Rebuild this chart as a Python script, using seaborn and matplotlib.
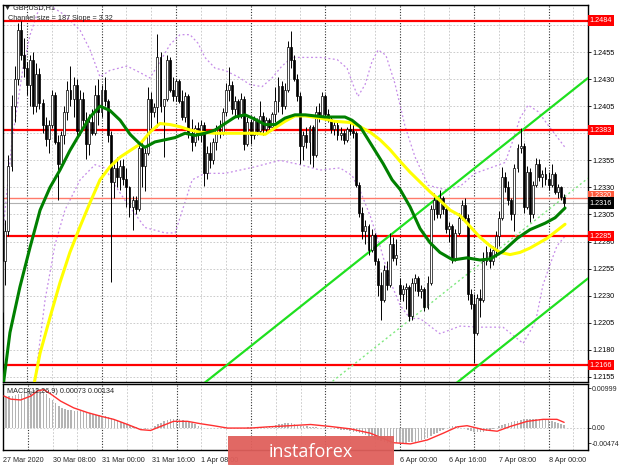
import numpy as np
import pandas as pd
import seaborn as sns
import matplotlib
matplotlib.use("Agg")
from matplotlib import pyplot as plt
from matplotlib.patches import FancyBboxPatch

## GBPUSD H1 chart (MT4 style) with MA, bands, channel and MACD

# candles, in pips above 1.2000 (one entry per hourly bar)
opens = [215, 262, 290, 350, 405, 430, 475, 452, 440, 425, 448, 405, 435, 408, 388, 375, 388, 415, 372, 352,
         378, 400, 420, 412, 425, 382, 412, 392, 370, 390, 380, 415, 400, 420, 410, 378, 335, 348, 340, 350,
         338, 330, 312, 318, 310, 366, 350, 362, 412, 400, 404, 450, 405, 412, 448, 420, 414, 428, 410, 395,
         414, 380, 372, 385, 378, 388, 343, 362, 355, 372, 385, 380, 400, 420, 425, 402, 410, 396, 412, 370,
         390, 378, 392, 382, 396, 384, 392, 386, 398, 410, 424, 405, 420, 460, 448, 430, 414, 368, 378, 372,
         386, 360, 400, 396, 414, 398, 393, 384, 388, 378, 380, 374, 384, 382, 380, 332, 306, 290, 294, 272,
         286, 262, 240, 226, 254, 240, 278, 265, 240, 232, 236, 238, 211, 242, 246, 234, 236, 220, 242, 310,
         318, 305, 320, 310, 292, 294, 264, 288, 302, 314, 302, 232, 222, 196, 228, 226, 262, 270, 262, 272,
         285, 302, 340, 330, 318, 305, 348, 366, 368, 312, 344, 305, 332, 352, 340, 342, 338, 332, 342, 326,
         330, 321]
highs = [270, 300, 360, 415, 442, 482, 484, 468, 446, 452, 455, 445, 440, 412, 395, 392, 420, 418, 378, 382,
         405, 428, 442, 432, 430, 420, 418, 400, 398, 402, 425, 430, 425, 432, 412, 382, 352, 358, 355, 356,
         348, 331, 322, 322, 370, 372, 366, 423, 418, 408, 472, 455, 412, 452, 450, 432, 430, 430, 420, 418,
         416, 393, 388, 390, 392, 390, 368, 372, 376, 388, 392, 403, 426, 441, 428, 414, 412, 417, 414, 395,
         393, 396, 394, 410, 400, 395, 394, 400, 423, 432, 428, 426, 465, 474, 452, 435, 418, 382, 386, 388,
         388, 405, 408, 418, 416, 402, 396, 392, 390, 386, 383, 386, 390, 389, 382, 335, 312, 300, 296, 292,
         288, 265, 252, 258, 262, 288, 284, 282, 246, 240, 242, 240, 246, 250, 248, 240, 238, 248, 314, 325,
         320, 328, 322, 313, 298, 296, 292, 306, 318, 320, 305, 236, 232, 232, 236, 270, 276, 274, 276, 290,
         308, 349, 344, 336, 320, 352, 370, 385, 371, 350, 348, 336, 357, 356, 346, 349, 344, 352, 344, 333,
         331, 324]
lows = [205, 240, 285, 345, 390, 425, 448, 432, 415, 405, 398, 400, 402, 380, 368, 362, 385, 370, 318, 348,
        370, 392, 405, 395, 375, 378, 388, 356, 360, 378, 378, 388, 395, 405, 372, 243, 320, 330, 328, 332,
        312, 303, 291, 305, 308, 330, 327, 360, 385, 395, 386, 400, 358, 410, 418, 410, 410, 408, 392, 390,
        376, 364, 368, 374, 372, 331, 338, 348, 352, 365, 376, 378, 396, 410, 398, 396, 393, 394, 365, 368,
        370, 375, 378, 380, 378, 380, 382, 384, 390, 400, 398, 402, 418, 440, 428, 410, 352, 355, 366, 352,
        349, 358, 390, 394, 392, 390, 380, 378, 374, 374, 370, 372, 378, 376, 330, 303, 282, 278, 268, 270,
        258, 230, 208, 224, 235, 238, 262, 258, 226, 225, 218, 207, 208, 234, 230, 228, 216, 218, 240, 300,
        302, 302, 305, 288, 280, 260, 262, 286, 300, 300, 226, 218, 168, 194, 210, 224, 258, 256, 258, 266,
        276, 300, 326, 314, 300, 290, 344, 362, 306, 310, 298, 302, 330, 336, 330, 332, 328, 330, 324, 320,
        318, 312]
closes = [262, 290, 350, 405, 430, 475, 452, 440, 425, 448, 405, 435, 408, 388, 375, 388, 415, 372, 352, 378,
          400, 420, 412, 425, 382, 412, 392, 370, 390, 380, 415, 400, 420, 410, 378, 335, 348, 340, 350, 338,
          330, 312, 318, 310, 366, 350, 362, 412, 400, 404, 450, 405, 412, 448, 420, 414, 428, 410, 395, 414,
          380, 372, 385, 378, 388, 343, 362, 355, 372, 385, 380, 400, 420, 425, 402, 410, 396, 412, 370, 390,
          378, 392, 382, 396, 384, 392, 386, 398, 410, 424, 405, 420, 460, 448, 430, 414, 368, 378, 372, 386,
          360, 400, 396, 414, 398, 393, 384, 388, 378, 380, 374, 384, 382, 380, 332, 306, 290, 294, 272, 286,
          262, 240, 226, 254, 240, 278, 265, 268, 232, 236, 238, 211, 242, 246, 234, 236, 220, 242, 310, 318,
          305, 320, 310, 292, 294, 264, 288, 302, 314, 302, 232, 222, 196, 228, 226, 262, 270, 262, 272, 285,
          302, 340, 330, 318, 305, 348, 366, 368, 312, 344, 305, 332, 352, 340, 342, 338, 332, 342, 326, 330,
          321, 316]

# moving averages: (bar, pips)
green_bar = [0, 2.5, 5.7, 9.0, 12.2, 15.4, 18.6, 21.8, 25.1, 28.3, 31.5, 34.7, 38.0, 41.2, 44.4, 46.0, 49.2,
             52.5, 55.7, 58.9, 62.1, 65.3, 68.6, 71.8, 75.0, 78.2, 81.4, 84.7, 87.9, 91.1, 94.3, 97.6, 100.8,
             104.0, 107.2, 110.4, 112.7, 115.3, 117.5, 120.1, 122.7, 125.6, 128.2, 131.4, 134.6, 137.8, 141.0,
             145.2, 149.7, 153.9, 157.2, 161.3, 165.9, 170.0, 174.9, 178.1, 181.3]
green_val = [140, 196, 238, 275, 309, 330, 346, 364, 380, 395, 405, 401, 392, 379, 370, 367, 372,
             374, 376, 380, 378, 380, 383, 389, 395, 397, 393, 388, 388, 394, 397, 397, 396,
             395, 395, 395, 392, 386, 376, 364, 352, 337, 328, 312, 292, 279, 270,
             263, 265, 263, 264, 271, 283, 291, 297, 302, 311]
yellow_bar = [9.0, 12.2, 15.4, 18.6, 21.8, 25.1, 28.3, 31.5, 34.7, 38.0, 41.2, 44.4, 47.6, 50.8, 54.1, 57.3,
              60.5, 63.7, 68.6, 75.0, 81.4, 84.7, 87.9, 91.1, 94.3, 97.6, 102.4, 107.2, 112.0, 115.3, 118.5,
              121.7, 124.9, 128.2, 131.4, 134.6, 137.8, 141.0, 144.3, 147.5, 150.7, 153.9, 157.2, 160.4,
              163.6, 166.8, 170.0, 175.5, 181.3]
yellow_val = [130, 177, 210, 242, 270, 294, 316, 337, 349, 358, 364, 370, 381, 389, 388, 386,
              383, 381, 380, 380, 380, 379, 385, 391, 396, 396, 394, 391, 390, 386, 381,
              374, 365, 354, 344, 335, 326, 318, 309, 304, 294, 284, 276, 270,
              268, 270, 274, 283, 296]

# bollinger bands (dotted violet): (bar, pips)
upper_bar = [0.3, 3.2, 6.7, 9.0, 11.5, 13.5, 15.4, 20.2, 25.1, 28.3, 31.5, 34.7, 40.2, 44.4, 47.6, 50.8, 54.1,
             57.3, 60.5, 63.1, 65.3, 68.6, 71.8, 76.0, 79.8, 83.7, 86.9, 90.1, 93.4, 97.6, 102.4, 107.9,
             111.1, 113.0, 114.6, 116.9, 119.1, 121.1, 123.6, 126.5, 129.8, 133.0, 137.2, 142.6, 147.5,
             152.3, 157.2, 162.0, 164.6, 166.8, 169.4, 172.6, 176.5, 181.3]
upper_val = [291, 374, 440, 471, 492, 502, 498, 489, 475, 457, 432, 438, 442, 436, 431, 446, 462,
             471, 471, 463, 450, 440, 438, 432, 425, 423, 431, 442, 450, 450, 450, 448,
             440, 425, 414, 425, 446, 457, 452, 426, 386, 358, 332, 328, 331,
             343, 348, 353, 374, 394, 406, 400, 385, 367]
lower_bar = [10.6, 13.8, 17.0, 20.2, 25.1, 29.9, 33.1, 36.3, 39.6, 46.0, 52.5, 55.7, 61.2, 65.3, 71.8, 81.4,
             89.5, 96.0, 102.4, 108.8, 112.7, 115.3, 118.5, 121.7, 124.9, 128.2, 131.4, 134.6, 141.0,
             147.5, 153.9, 161.3, 167.8, 171.8, 174.2, 176.5, 178.7, 181.3]
lower_val = [152, 226, 277, 309, 337, 351, 348, 332, 318, 293, 288, 288, 337, 343, 343, 349,
             355, 351, 346, 348, 341, 327, 304, 276, 244, 221, 209, 209, 195,
             202, 201, 201, 186, 206, 240, 259, 276, 285]

# horizontal levels
red_levels = [1.2484, 1.2383, 1.2285, 1.2166]
orange_level = 1.2320
last_price = 1.2316

# regression channel (upper line end points) and its width
chan_bar = [60.0, 188.7]
chan_upper = [1.21378, 1.2431]
chan_width = 0.0185

# MACD histogram (1e-4 units) and signal line samples
macd_hist = [77, 78, 79, 80, 82, 84, 86, 88, 90, 93, 96, 99, 97, 90, 84, 76, 70, 62, 55, 50,
             46, 45, 44, 43, 42, 41, 40, 38, 36, 34, 33, 32, 30, 29, 27, 24, 22, 19, 15, 11,
             8, 5, 3, 1, 0, -2, -3, -2, 0, 3, 9, 13, 17, 20, 21, 22, 21, 21, 19, 17,
             14, 11, 8, 5, 2, 0, -1, -1, 0, 0, -1, -1, 0, 0, -1, -1, 0, 0, 0, 1,
             1, 0, 0, 0, 1, 2, 3, 4, 6, 8, 10, 12, 12, 11, 9, 7, 5, 4, 3, 2,
             1, 1, 0, 0, 0, -1, -2, -3, -4, -5, -6, -7, -8, -10, -12, -14, -16, -18, -20, -24,
             -28, -31, -34, -37, -39, -40, -39, -39, -39, -39, -38, -37, -36, -35, -33, -31, -29, -25, -21, -17,
             -13, -9, -5, -2, 1, 3, 3, 2, 0, -1, -5, -8, -10, -12, -12, -11, -9, -6, -4, -1,
             3, 6, 8, 11, 14, 16, 18, 20, 22, 22, 21, 21, 21, 21, 20, 20, 19, 17, 15, 13,
             10, 7.3]
signal_bar = [0.3, 2.5, 5.7, 9.0, 11.2, 13.1, 15.4, 18.6, 22.8, 27.3, 31.5, 35.7, 40.2, 44.4, 47.6, 50.8,
              55.0, 59.5, 63.7, 67.9, 72.4, 79.8, 85.3, 92.7, 99.2, 105.6, 112.0, 118.5, 125.9, 131.4,
              136.9, 142.0, 146.5, 149.7, 154.9, 159.4, 163.6, 169.1, 174.2, 178.7, 181.0]
signal_val = [80, 72, 70, 80, 93, 96, 85, 67, 50, 38, 29, 21, 8, -5, -7, 3,
              16, 16, 10, 5, -1, -1, 2, 5, 8, 3, -3, -14, -38, -41,
              -31, -14, 2, 5, -5, -9, 3, 16, 21, 21, 13.4]

# dates under the instaforex badge are hidden in the original, so their labels stay blank
date_bars = [0, 16, 32, 48, 64, 80, 96, 112, 128, 144, 160, 176]
date_labels = ['27 Mar 2020', '30 Mar 08:00', '31 Mar 00:00', '31 Mar 16:00', '1 Apr 08:00', '',
               '', '', '6 Apr 00:00', '6 Apr 16:00', '7 Apr 08:00', '8 Apr 00:00']
price_ticks = [1.2155, 1.2180, 1.2205, 1.2230, 1.2255, 1.2280, 1.2305, 1.2330, 1.2355, 1.2380,
               1.2405, 1.2430, 1.2455, 1.2480]
hidden_ticks = [1.2380, 1.2480]

sns.set_style("white")
plt.rcParams['font.family'] = ['Liberation Sans', 'DejaVu Sans']
plt.rcParams['font.size'] = 5.2

W, H = 620, 465
def frac(x0, y0, x1, y1):
    return [x0 / W, 1 - y1 / H, (x1 - x0) / W, (y1 - y0) / H]

fig = plt.figure(figsize=(6.2, 4.65), dpi=100)
ax = fig.add_axes(frac(3, 5, 588, 382))
axm = fig.add_axes(frac(3, 383.5, 588, 450))

bars = np.arange(len(closes))
o = 1.2 + np.array(opens) / 1e4
h = 1.2 + np.array(highs) / 1e4
l = 1.2 + np.array(lows) / 1e4
c = 1.2 + np.array(closes) / 1e4

xlim = (0.26, 188.7)
for a in (ax, axm):
    a.set_xlim(*xlim)
    a.set_facecolor('white')
    for s in a.spines.values():
        s.set_color('black')
        s.set_linewidth(1.0)
    # grid: light every 8 bars, dark dotted day separators
    for b in range(0, 190, 8):
        if (b - 8) % 24 == 0:
            a.axvline(b, color='#333333', lw=0.8, ls=(0, (1, 1.5)), zorder=0.5)
        else:
            a.axvline(b, color='#c4c4c4', lw=0.6, ls=(0, (2, 2)), zorder=0.4)

ax.set_ylim(1.215038, 1.249839)
for p in price_ticks:
    ax.axhline(p, color='#c4c4c4', lw=0.6, ls=(0, (2, 2)), zorder=0.4)

# bollinger bands
band_df = pd.DataFrame({'bar': upper_bar, 'price': 1.2 + np.array(upper_val) / 1e4})
sns.lineplot(data=band_df, x='bar', y='price', ax=ax, color='#c58be8', lw=0.9, ls=(0, (1.5, 2)),
             estimator=None, sort=False, zorder=1)
band_df = pd.DataFrame({'bar': lower_bar, 'price': 1.2 + np.array(lower_val) / 1e4})
sns.lineplot(data=band_df, x='bar', y='price', ax=ax, color='#c58be8', lw=0.9, ls=(0, (1.5, 2)),
             estimator=None, sort=False, zorder=1)

# horizontal levels
for p in red_levels:
    ax.axhline(p, color='#ff0000', lw=1.6, zorder=2)
ax.axhline(orange_level, color='#ff7a6a', lw=1.0, zorder=2)
ax.axhline(last_price, color='#b0b0b0', lw=0.8, zorder=2)

# channel
cb = np.array(chan_bar)
cu = np.array(chan_upper)
ax.plot(cb, cu, color='#1fe01f', lw=1.6, zorder=3)
ax.plot(cb, cu - chan_width, color='#1fe01f', lw=1.6, zorder=3)
ax.plot(cb, cu - chan_width / 2, color='#7fe87f', lw=1.0, ls=(0, (1.5, 2)), zorder=3)

# candles
up = c >= o
ax.vlines(bars, l, h, color='black', lw=0.7, zorder=4)
body = np.maximum(np.abs(c - o), 0.00008)
ax.bar(bars[up], body[up], bottom=np.minimum(o, c)[up], width=0.62, color='white',
       edgecolor='black', lw=0.5, zorder=5)
ax.bar(bars[~up], body[~up], bottom=np.minimum(o, c)[~up], width=0.62, color='black',
       edgecolor='black', lw=0.5, zorder=5)

# moving averages
ma_df = pd.DataFrame({'bar': yellow_bar, 'price': 1.2 + np.array(yellow_val) / 1e4})
sns.lineplot(data=ma_df, x='bar', y='price', ax=ax, color='#ffff00', lw=2.2, estimator=None, sort=False,
             zorder=6)
ma_df = pd.DataFrame({'bar': green_bar, 'price': 1.2 + np.array(green_val) / 1e4})
sns.lineplot(data=ma_df, x='bar', y='price', ax=ax, color='#008000', lw=2.2, estimator=None, sort=False,
             zorder=7)

ax.set_xlabel('')
ax.set_ylabel('')
ax.set_xticks([])
ax.yaxis.tick_right()
ax.set_yticks(price_ticks)
ax.set_yticklabels(['' if p in hidden_ticks else '%.4f' % p for p in price_ticks])
ax.tick_params(axis='y', length=2, width=0.6, pad=1.5, colors='black', labelsize=5.2)

lbl_tr = ax.get_yaxis_transform()
for p in red_levels:
    ax.text(1.003, p, '%.4f' % p, transform=lbl_tr, va='center', ha='left', color='white', fontsize=5.2,
            clip_on=False, zorder=10,
            bbox=dict(boxstyle='square,pad=0.25', fc='#ff0000', ec='none'))
# the orange level label sits mostly behind the last price label
ax.text(1.003, 1.23222, '%.4f' % orange_level, transform=lbl_tr, va='center', ha='left',
        color='white', fontsize=5.2, clip_on=False, zorder=10,
        bbox=dict(boxstyle='square,pad=0.25', fc='#ff5a3c', ec='none'))
ax.text(1.003, last_price - 0.00005, '%.4f' % last_price, transform=lbl_tr, va='center', ha='left',
        color='white', fontsize=5.2, clip_on=False, zorder=11,
        bbox=dict(boxstyle='square,pad=0.3', fc='black', ec='none'))

# MACD panel
axm.set_ylim(-0.005641, 0.011154)
axm.axhline(0, color='#c4c4c4', lw=0.6, ls=(0, (2, 2)), zorder=0.4)
axm.bar(bars, np.array(macd_hist) / 1e4, width=0.5, color='#b4b4b4', edgecolor='none', lw=0, zorder=2)
sig_df = pd.DataFrame({'bar': signal_bar, 'macd': np.array(signal_val) / 1e4})
sns.lineplot(data=sig_df, x='bar', y='macd', ax=axm, color='#ff3030', lw=1.0, estimator=None, sort=False,
             zorder=3)
axm.set_xlabel('')
axm.set_ylabel('')
axm.yaxis.tick_right()
axm.set_yticks([0.00999, 0.0, -0.0039])
axm.set_yticklabels(['0.00999', '0.00', '-0.00474'])
axm.tick_params(axis='y', length=2, width=0.6, pad=1, labelsize=5.0)
axm.set_xticks(date_bars)
axm.set_xticklabels(date_labels, ha='left')
axm.tick_params(axis='x', length=3, width=0.6, pad=2, labelsize=5.2)
axm.text(0.006, 0.88, 'MACD(12,26,9) 0.00073 0.00134', transform=axm.transAxes, fontsize=5.2, va='center',
         zorder=10)

fig.text(4 / W, 1 - 8 / H, '\u25bc GBPUSD,H1', fontsize=5.2, va='center', ha='left')
fig.text(8 / W, 1 - 18 / H, 'Channel size = 187 Slope = 3.32', fontsize=5.2, va='center', ha='left')

# instaforex badge
logo = fig.add_axes(frac(228, 436, 394, 465))
logo.set_axis_off()
logo.set_xlim(0, 1)
logo.set_ylim(0, 1)
logo.add_patch(FancyBboxPatch((0, 0), 1, 1.3, boxstyle='round,pad=0,rounding_size=0.03',
                              fc='#e0605c', ec='none', alpha=0.95, mutation_aspect=0.2))
logo.text(0.5, 0.45, 'instaforex', color='white', fontsize=13, ha='center', va='center',
          family=['Open Sans', 'DejaVu Sans'])

fig.savefig('out.png', dpi=100)
